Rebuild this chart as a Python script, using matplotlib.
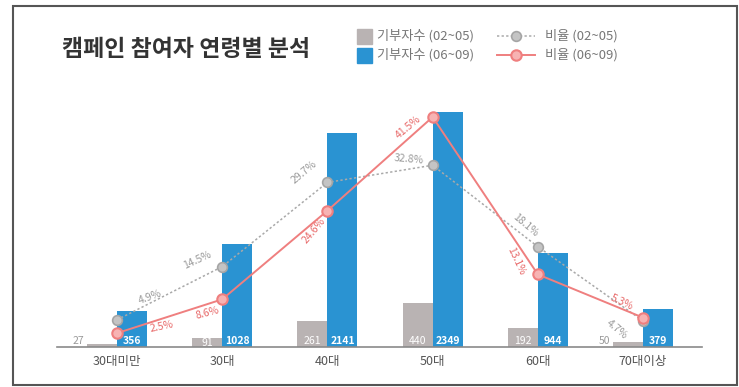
import numpy as np
import matplotlib.pyplot as plt
from matplotlib.patches import Rectangle
from matplotlib.lines import Line2D

plt.rcParams['font.family'] = ['Noto Sans CJK KR', 'DejaVu Sans']

# Campaign participants by age group
ages = ['30대미만', '30대', '40대', '50대', '60대', '70대이상']
donors_0205 = [27, 91, 261, 440, 192, 50]
donors_0609 = [356, 1028, 2141, 2349, 944, 379]
ratio_0205 = [4.9, 14.5, 29.7, 32.8, 18.1, 4.7]
ratio_0609 = [2.5, 8.6, 24.6, 41.5, 13.1, 5.3]
legend_labels = ['기부자수 (02~05)', '기부자수 (06~09)', '비율 (02~05)', '비율 (06~09)']

gray_bar = '#b9b3b3'
blue_bar = '#2a93d2'
gray_line = '#a9a9a9'
red_line = '#ef7f7f'

gray_style = dict(color=gray_line, lw=1.1, ls=(0, (1.5, 1.5)), marker='o',
                  ms=7, mfc='#c4c4c4', mec='#a5a5a5', mew=1.2)
red_style = dict(color=red_line, lw=1.4, marker='o', ms=7.5,
                 mfc='#f7b3b3', mec=red_line, mew=1.5)

fig = plt.figure(figsize=(7.39, 3.87), dpi=100)
W, H = 739, 387
ax = fig.add_axes([57 / W, 40 / H, 645 / W, 307 / H])
ax.set_xlim(-0.57, 5.56)
ax.set_ylim(0, 3070)

x = np.arange(len(ages))
bw = 0.285
ax.bar(x - bw / 2, donors_0205, bw, color=gray_bar, zorder=2)
ax.bar(x + bw / 2, donors_0609, bw, color=blue_bar, zorder=2)

# value labels at the foot of each bar
for i in range(len(ages)):
    g = donors_0205[i]
    if g < 80:
        ax.text(x[i] - bw - 0.03, 25, str(g), ha='right', va='baseline',
                fontsize=7.5, color='#9a9a9a')
    else:
        ax.text(x[i] - bw / 2, 12 if g < 150 else 25, str(g), ha='center',
                va='baseline', fontsize=7.5, color='white')
    ax.text(x[i] + bw / 2, 25, str(donors_0609[i]), ha='center', va='baseline',
            fontsize=7.5, color='white', fontweight='bold')

ax.spines[['top', 'right', 'left']].set_visible(False)
ax.spines['bottom'].set_color('#8a8a8a')
ax.spines['bottom'].set_linewidth(1.2)
ax.set_yticks([])
ax.set_xticks(x)
ax.set_xticklabels(ages, fontsize=9, color='#555555')
ax.tick_params(axis='x', length=0, pad=6)

# share percentages on a second scale
ax2 = ax.twinx()
ax2.set_ylim(0, 55.4)
ax2.set_yticks([])
for s in ax2.spines.values():
    s.set_visible(False)

ax2.plot(x, ratio_0205, zorder=3, **gray_style)
ax2.plot(x, ratio_0609, zorder=4, **red_style)

gray_offsets = [(33, 23, 20), (-25, 7, 25), (-23, 10, 40),
                (-24, 6, -5), (-12, 21, -40), (-26, -8, -40)]
red_offsets = [(45, 7, 12), (-15, -14, 15), (-14, -20, 50),
               (-24, -10, 40), (-22, 13, -65), (-21, 15, -25)]
for i in range(len(ages)):
    dx, dy, rot = gray_offsets[i]
    ax2.annotate(f'{ratio_0205[i]}%', (x[i], ratio_0205[i]), xytext=(dx, dy),
                 textcoords='offset pixels', ha='center', va='center',
                 fontsize=7.5, color='#9a9a9a', rotation=rot)
    dx, dy, rot = red_offsets[i]
    ax2.annotate(f'{ratio_0609[i]}%', (x[i], ratio_0609[i]), xytext=(dx, dy),
                 textcoords='offset pixels', ha='center', va='center',
                 fontsize=7.5, color='#e86a6a', rotation=rot)

fig.text(62 / W, 1 - 50 / H, '캠페인 참여자 연령별 분석', fontsize=16.5,
         fontweight='bold', color='#333333', va='center')

# legend, laid out in figure pixels
def fx(px):
    return px / W

def fy(py):
    return 1 - py / H

for row, (color, label) in enumerate(zip([gray_bar, blue_bar], legend_labels[:2])):
    yc = 36 + row * 19
    fig.add_artist(Rectangle((fx(357), fy(yc + 7.5)), 15 / W, 15 / H,
                             color=color, transform=fig.transFigure))
    fig.text(fx(377), fy(yc), label, fontsize=9.5, color='#777777', va='center')

for row, (style, label) in enumerate(zip([gray_style, red_style], legend_labels[2:])):
    yc = 36 + row * 19
    fig.add_artist(Line2D([fx(497), fx(535)], [fy(yc), fy(yc)],
                          transform=fig.transFigure, markevery=[], **style))
    fig.add_artist(Line2D([fx(516)], [fy(yc)], transform=fig.transFigure,
                          **{**style, 'ls': 'none'}))
    fig.text(fx(545), fy(yc), label, fontsize=9.5, color='#777777', va='center')

# outer frame
fig.add_artist(Rectangle((13 / W, 2 / H), 724 / W, 379 / H,
                         transform=fig.transFigure, fill=False,
                         ec='#555555', lw=1.5))

fig.savefig('out.png', dpi=100)
